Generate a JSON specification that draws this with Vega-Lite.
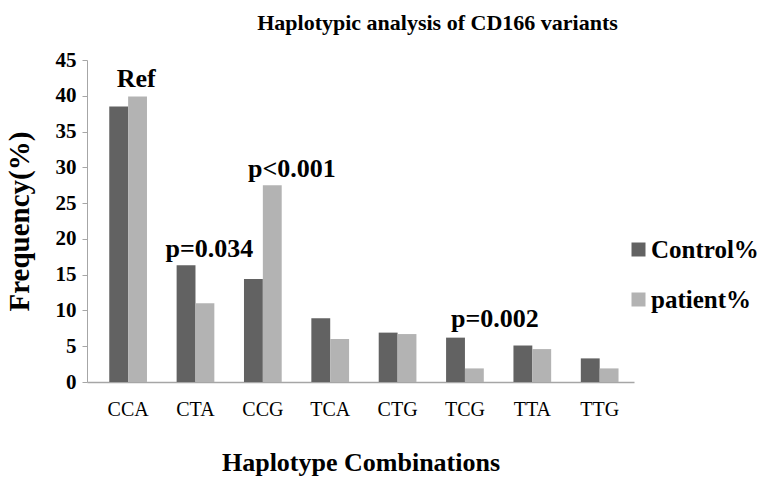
{
  "$schema": "https://vega.github.io/schema/vega-lite/v6.json",
  "width": 547,
  "height": 322,
  "autosize": "none",
  "padding": {"left": 87, "top": 60, "right": 140, "bottom": 108},
  "background": "white",
  "title": {
    "text": "Haplotypic analysis of CD166 variants",
    "font": "Liberation Serif",
    "fontSize": 22,
    "fontWeight": "bold",
    "color": "black",
    "anchor": "middle",
    "dx": 77,
    "offset": 14
  },
  "config": {
    "view": {"stroke": null},
    "font": "Liberation Serif",
    "axisY": {"labelOverlap": false}
  },
  "datasets": {
    "bars": [
      {"hap": "CCA", "group": "Control%", "value": 38.5},
      {"hap": "CCA", "group": "patient%", "value": 39.9},
      {"hap": "CTA", "group": "Control%", "value": 16.3},
      {"hap": "CTA", "group": "patient%", "value": 11.0},
      {"hap": "CCG", "group": "Control%", "value": 14.4},
      {"hap": "CCG", "group": "patient%", "value": 27.5},
      {"hap": "TCA", "group": "Control%", "value": 8.9},
      {"hap": "TCA", "group": "patient%", "value": 6.0},
      {"hap": "CTG", "group": "Control%", "value": 6.9},
      {"hap": "CTG", "group": "patient%", "value": 6.7},
      {"hap": "TCG", "group": "Control%", "value": 6.2},
      {"hap": "TCG", "group": "patient%", "value": 1.9},
      {"hap": "TTA", "group": "Control%", "value": 5.1},
      {"hap": "TTA", "group": "patient%", "value": 4.6},
      {"hap": "TTG", "group": "Control%", "value": 3.3},
      {"hap": "TTG", "group": "patient%", "value": 1.9}
    ],
    "notes": [
      {"hap": "CCA", "label": "Ref", "value": 39.9},
      {"hap": "CTA", "label": "p=0.034", "value": 16.3},
      {"hap": "CCG", "label": "p<0.001", "value": 27.5},
      {"hap": "TCG", "label": "p=0.002", "value": 6.2}
    ]
  },
  "encoding": {
    "x": {
      "field": "hap",
      "type": "nominal",
      "sort": ["CCA", "CTA", "CCG", "TCA", "CTG", "TCG", "TTA", "TTG"],
      "scale": {"paddingInner": 0.44, "paddingOuter": 0.28, "align": 0.59},
      "axis": {
        "title": "Haplotype Combinations",
        "titleFont": "Liberation Serif",
        "titleFontSize": 26,
        "titleFontWeight": "bold",
        "titleColor": "black",
        "titlePadding": 30,
        "labelFont": "Liberation Serif",
        "labelFontSize": 20,
        "labelColor": "black",
        "labelAngle": 0,
        "labelPadding": 17,
        "ticks": false,
        "domainColor": "#a6a6a6",
        "domainWidth": 1.5
      }
    },
    "y": {
      "field": "value",
      "type": "quantitative",
      "scale": {"domain": [0, 45], "nice": false},
      "axis": {
        "title": "Frequency(%)",
        "titleFont": "Liberation Serif",
        "titleFontSize": 29,
        "titleFontWeight": "bold",
        "titleColor": "black",
        "titlePadding": 21,
        "values": [0, 5, 10, 15, 20, 25, 30, 35, 40, 45],
        "labelOverlap": false,
        "labelBound": false,
        "labelFont": "Liberation Serif",
        "labelFontSize": 21,
        "labelFontWeight": "bold",
        "labelColor": "black",
        "labelPadding": 6,
        "tickSize": 5,
        "tickColor": "#a6a6a6",
        "domainColor": "#a6a6a6",
        "grid": false
      }
    }
  },
  "layer": [
    {
      "data": {"name": "bars"},
      "mark": {"type": "bar"},
      "encoding": {
        "xOffset": {"field": "group", "type": "nominal", "sort": ["Control%", "patient%"]},
        "color": {
          "field": "group",
          "type": "nominal",
          "scale": {"domain": ["Control%", "patient%"], "range": ["#626262", "#b3b3b3"]},
          "legend": {
            "title": null,
            "orient": "none",
            "legendX": 539,
            "legendY": 177,
            "symbolType": "square",
            "symbolSize": 196,
            "symbolStrokeWidth": 0,
            "labelFont": "Liberation Serif",
            "labelFontSize": 25,
            "labelFontWeight": "bold",
            "labelColor": "black",
            "labelOffset": 0,
            "rowPadding": 24
          }
        }
      }
    },
    {
      "data": {"name": "notes"},
      "transform": [{"filter": "datum.hap === 'CCA'"}],
      "mark": {"type": "text", "font": "Liberation Serif", "fontSize": 26, "fontWeight": "bold", "baseline": "alphabetic", "align": "center", "dx": 8, "dy": -9, "color": "black"},
      "encoding": {"text": {"field": "label"}}
    },
    {
      "data": {"name": "notes"},
      "transform": [{"filter": "datum.hap === 'CTA'"}],
      "mark": {"type": "text", "font": "Liberation Serif", "fontSize": 26, "fontWeight": "bold", "baseline": "alphabetic", "align": "center", "dx": 14, "dy": -8, "color": "black"},
      "encoding": {"text": {"field": "label"}}
    },
    {
      "data": {"name": "notes"},
      "transform": [{"filter": "datum.hap === 'CCG'"}],
      "mark": {"type": "text", "font": "Liberation Serif", "fontSize": 26, "fontWeight": "bold", "baseline": "alphabetic", "align": "center", "dx": 29, "dy": -8, "color": "black"},
      "encoding": {"text": {"field": "label"}}
    },
    {
      "data": {"name": "notes"},
      "transform": [{"filter": "datum.hap === 'TCG'"}],
      "mark": {"type": "text", "font": "Liberation Serif", "fontSize": 26, "fontWeight": "bold", "baseline": "alphabetic", "align": "center", "dx": 30, "dy": -11, "color": "black"},
      "encoding": {"text": {"field": "label"}}
    }
  ]
}
